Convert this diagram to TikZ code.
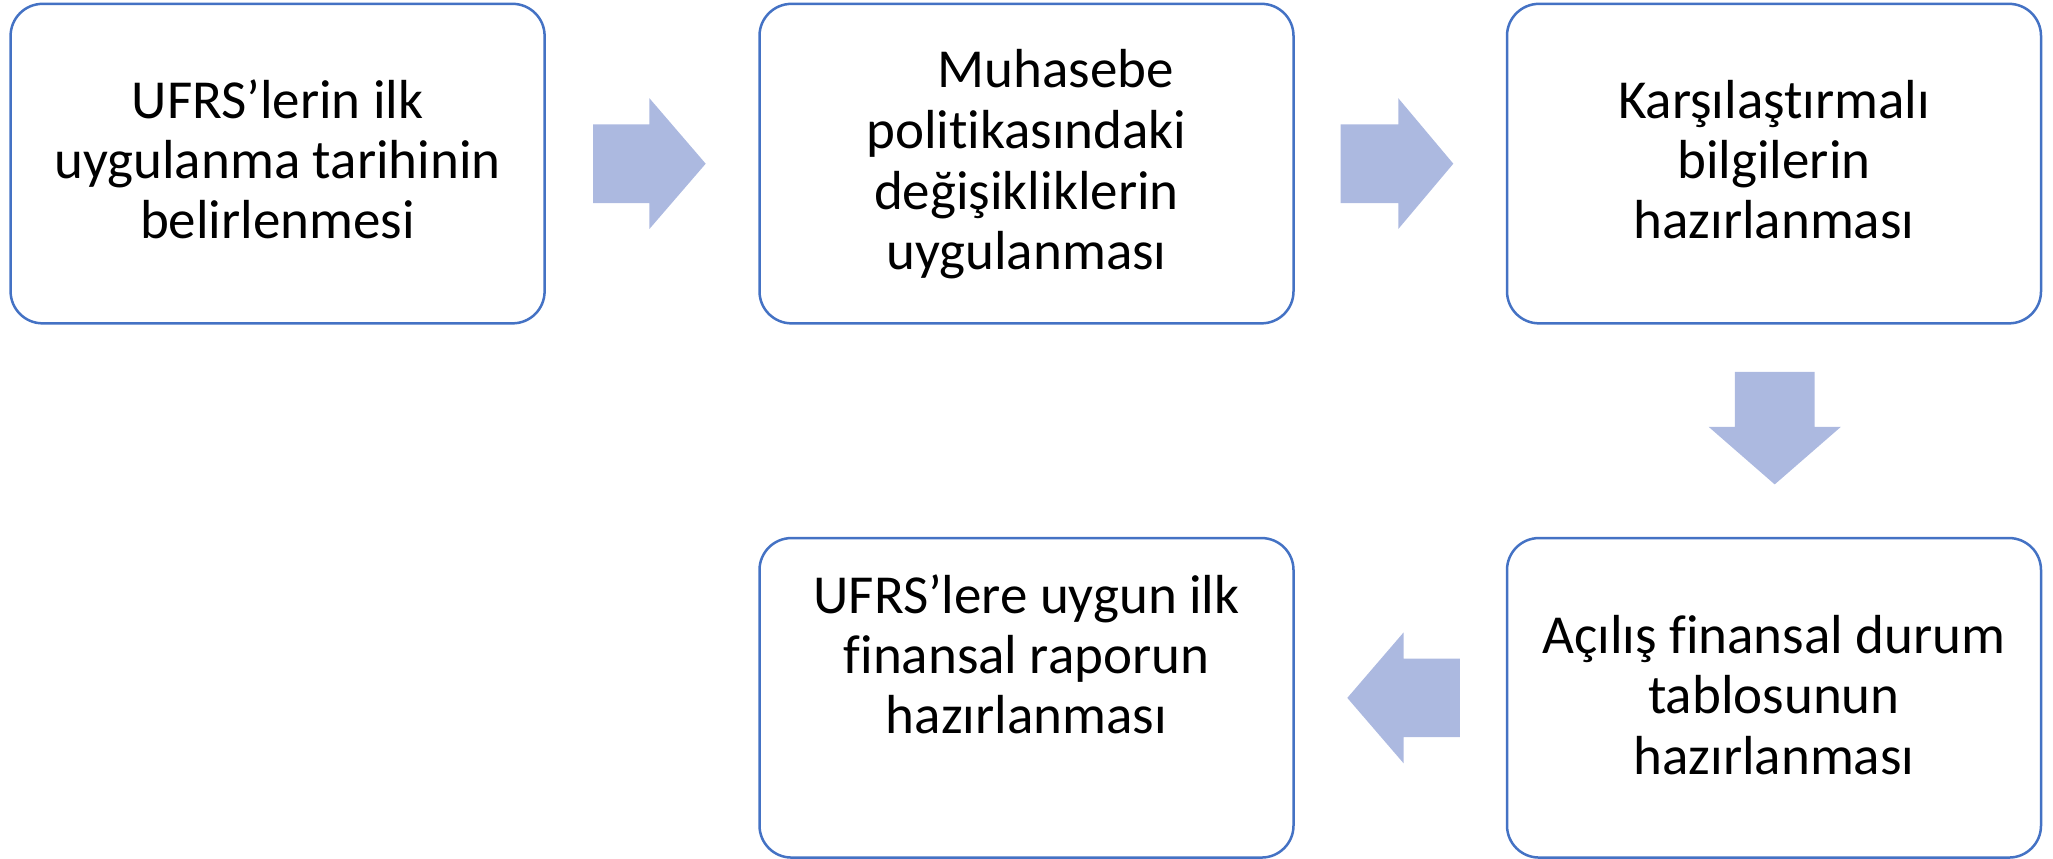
\documentclass[tikz,border=0pt]{standalone}
\usepackage{fontspec}
\setmainfont{Carlito}[Ligatures={NoCommon}]
\definecolor{boxblue}{RGB}{68,114,196}
\definecolor{arrowfill}{RGB}{172,185,224}
\tikzset{
  procbox/.style={draw=boxblue, line width=2.5pt, rounded corners=32pt,
    minimum width=534pt, minimum height=319.5pt, inner sep=0pt, fill=white},
  txtline/.style={font=\fontsize{55}{60}\selectfont, anchor=base, inner sep=0pt, text=black},
  blockarrow/.style={fill=arrowfill, draw=none}
}
\begin{document}
\begin{tikzpicture}[x=1pt,y=-1pt]
\useasboundingbox (0,0) rectangle (2053,859);
% boxes
\node[procbox] (b1) at (277.6,163.6) {};
\node[procbox] (b2) at (1026.5,163.6) {};
\node[procbox] (b3) at (1774,163.6) {};
\node[procbox] (b4) at (1026.5,697.8) {};
\node[procbox] (b5) at (1774,697.8) {};
% texts
\node[txtline] (t1a) at (277.6,118) {UFRS’lerin ilk};
\node[txtline] (t1b) at (277.6,178) {uygulanma tarihinin};
\node[txtline] (t1c) at (277.6,238) {belirlenmesi};
\node[txtline] (t2a) at (1056,88) {Muhasebe};
\node[txtline] (t2b) at (1026.5,148) {politikasındaki};
\node[txtline] (t2c) at (1026.5,209) {değişikliklerin};
\node[txtline] (t2d) at (1026.5,269) {uygulanması};
\node[txtline] (t3a) at (1774,118) {Karşılaştırmalı};
\node[txtline] (t3b) at (1774,178) {bilgilerin};
\node[txtline] (t3c) at (1774,238) {hazırlanması};
\node[txtline] (t4a) at (1026.5,613) {UFRS’lere uygun ilk};
\node[txtline] (t4b) at (1026.5,673) {finansal raporun};
\node[txtline] (t4c) at (1026.5,733) {hazırlanması};
\node[txtline] (t5a) at (1774,653) {Açılış finansal durum};
\node[txtline] (t5b) at (1774,713) {tablosunun};
\node[txtline] (t5c) at (1774,774) {hazırlanması};
% block arrows
\fill[blockarrow] (593,124.4) -- (649.4,124.4) -- (649.4,98.2) -- (705.7,163.7)
  -- (649.4,229) -- (649.4,203) -- (593,203) -- cycle;
\fill[blockarrow] (1340.7,124.4) -- (1398.3,124.4) -- (1398.3,98.2) -- (1453.3,163.7)
  -- (1398.3,229) -- (1398.3,203) -- (1340.7,203) -- cycle;
\fill[blockarrow] (1734.8,371.8) -- (1814.7,371.8) -- (1814.7,426.8) -- (1840.9,426.8)
  -- (1774.7,484.4) -- (1708.6,426.8) -- (1734.8,426.8) -- cycle;
\fill[blockarrow] (1459.9,658.6) -- (1403.6,658.6) -- (1403.6,632.4) -- (1347.3,697.9)
  -- (1403.6,763.3) -- (1403.6,737.1) -- (1459.9,737.1) -- cycle;
\end{tikzpicture}
\end{document}
